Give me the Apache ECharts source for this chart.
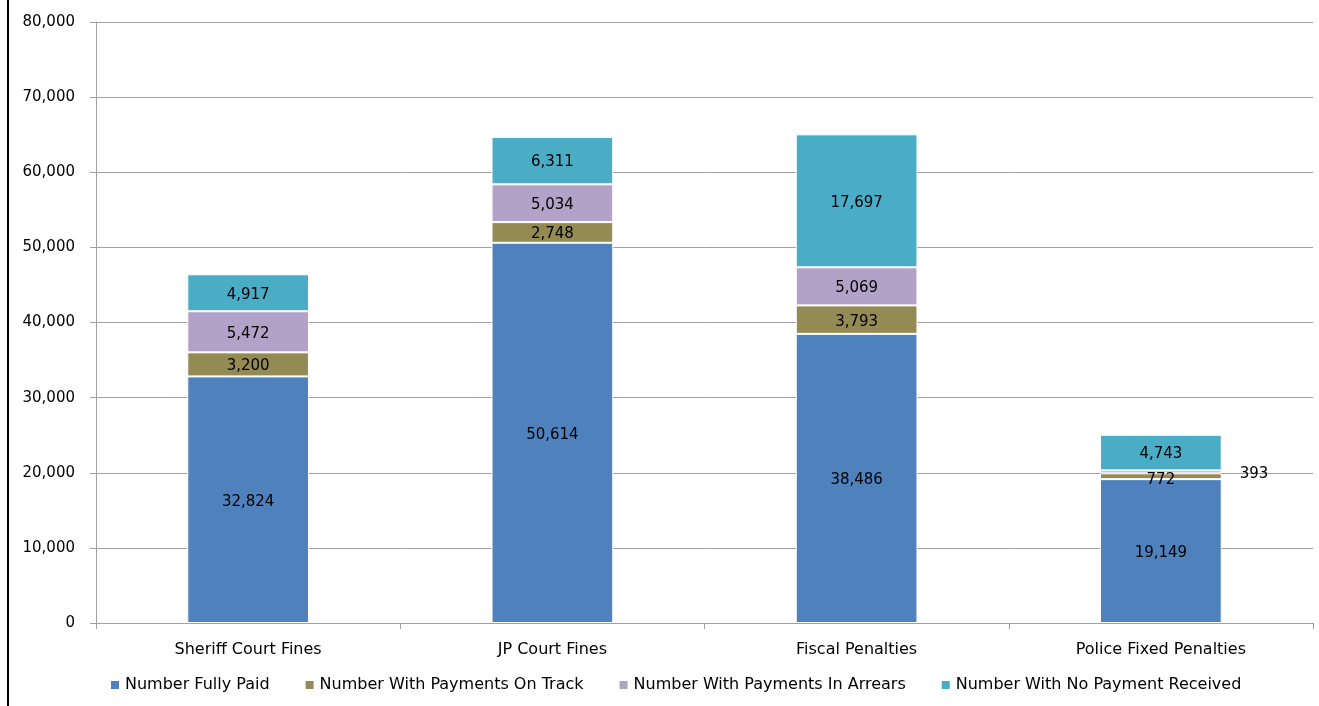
<!DOCTYPE html>
<html><head><meta charset="utf-8">
<script src="https://cdn.jsdelivr.net/npm/echarts@6/dist/echarts.min.js"></script>
<style>html,body{margin:0;padding:0;background:#fff;}#c{width:1319px;height:706px;}</style>
</head><body><div id="c"></div>
<script>
const categories = ['Sheriff Court Fines', 'JP Court Fines', 'Fiscal Penalties', 'Police Fixed Penalties'];
const seriesNames = ['Number Fully Paid', 'Number With Payments On Track', 'Number With Payments In Arrears', 'Number With No Payment Received'];
const fullyPaid = [32824, 50614, 38486, 19149];
const onTrack = [3200, 2748, 3793, 772];
const inArrears = [5472, 5034, 5069, 393];
const noPayment = [4917, 6311, 17697, 4743];
const yTicks = [0, 10000, 20000, 30000, 40000, 50000, 60000, 70000, 80000];

const colors = ['#4F81BD', '#948A54', '#B2A2C7', '#4BACC6'];
const font = 'DejaVu Sans';
const fmt = v => v.toLocaleString('en-US');

function mk(name, data, color, idx) {
  return {
    name: name, type: 'bar', stack: 'all', barWidth: '40%',
    itemStyle: {color: color, borderColor: '#fff', borderWidth: 1},
    label: {show: true, position: 'inside', color: '#000', fontFamily: font, fontSize: 15,
      offset: [0, 2], formatter: p => fmt(p.value)},
    data: data.map((v, i) => {
      if (idx === 2 && i === 3) {
        return {value: v, label: {position: 'right', distance: 18}};
      }
      if (idx === 1 && i === 3) {
        return {value: v, label: {offset: [0, 4]}};
      }
      return v;
    })
  };
}

const chart = echarts.init(document.getElementById('c'));
chart.setOption({
  animation: false,
  color: colors,
  grid: {left: 96, right: 6, top: 22, bottom: 83, containLabel: false},
  legend: {bottom: 8, left: 104, itemWidth: 10, itemHeight: 10, itemGap: 34,
    icon: 'rect',
    textStyle: {fontFamily: font, fontSize: 16, color: '#000'},
    data: seriesNames},
  xAxis: {type: 'category', data: categories,
    axisLine: {lineStyle: {color: '#A0A0A0'}},
    axisTick: {show: true, interval: 0, length: 6, lineStyle: {color: '#A0A0A0'}},
    axisLabel: {color: '#000', fontFamily: font, fontSize: 16, margin: 19}},
  yAxis: {type: 'value', min: yTicks[0], max: yTicks[yTicks.length - 1], interval: 10000,
    axisLine: {show: true, lineStyle: {color: '#A0A0A0'}},
    axisTick: {show: true, length: 6, lineStyle: {color: '#A0A0A0'}},
    splitLine: {lineStyle: {color: '#A0A0A0'}},
    axisLabel: {color: '#000', fontFamily: font, fontSize: 15, margin: 21,
      formatter: v => fmt(v)}},
  graphic: [{type: 'rect', shape: {x: 7, y: 0, width: 2, height: 706}, style: {fill: '#000'}}],
  series: [
    mk(seriesNames[0], fullyPaid, colors[0], 0),
    mk(seriesNames[1], onTrack, colors[1], 1),
    mk(seriesNames[2], inArrears, colors[2], 2),
    mk(seriesNames[3], noPayment, colors[3], 3)
  ]
});
</script></body></html>
